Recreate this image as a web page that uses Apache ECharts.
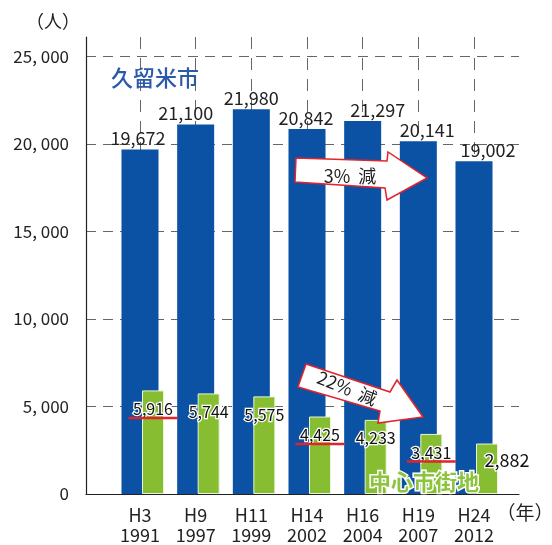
<!DOCTYPE html>
<html>
<head>
<meta charset="utf-8">
<script src="https://cdn.jsdelivr.net/npm/echarts@6/dist/echarts.min.js"></script>
<style>
html,body{margin:0;padding:0;background:#fff;}
#chart{width:552px;height:545px;}
</style>
</head>
<body>
<div id="chart"></div>
<script>
// ---- data ----
const eraLabels = ['H3', 'H9', 'H11', 'H14', 'H16', 'H19', 'H24'];
const yearLabels = ['1991', '1997', '1999', '2002', '2004', '2007', '2012'];
const kurumeCity = [19672, 21100, 21980, 20842, 21297, 20141, 19002];
const centralArea = [5916, 5744, 5575, 4425, 4233, 3431, 2882];
const yTickLabels = ['0', '5, 000', '10, 000', '15, 000', '20, 000', '25, 000'];
const underlinedCentral = [0, 3, 5];

// ---- styles ----
const FONT = "'Noto Sans CJK JP', 'Noto Sans', sans-serif";
const BLUE = '#0b51a4';
const GREEN = '#86bd31';
const RED = '#e3232c';
const blueLabelDx = [-2, -10, 0, -1, 15, 9, 14];

const categories = eraLabels.map((e, i) => e + '\n' + yearLabels[i]);
const fmt = v => v.toLocaleString('en-US');
const Y_MAX = 26100;
const TOP = 37, BOTTOM = 51;

const chart = echarts.init(document.getElementById('chart'), null, {renderer: 'canvas'});

const option = {
  animation: false,
  backgroundColor: '#fff',
  grid: [
    {left: 86, right: 33, top: TOP, bottom: BOTTOM},
    {left: 140, right: 78, top: TOP, bottom: BOTTOM},
    {left: 153, right: 65, top: TOP, bottom: BOTTOM}
  ],
  xAxis: [
    {
      gridIndex: 0, type: 'value', min: 0, max: 1,
      axisLine: {show: true, lineStyle: {color: '#222', width: 1.2}},
      axisTick: {show: false}, axisLabel: {show: false}, splitLine: {show: false}
    },
    {
      gridIndex: 1, type: 'category', data: categories, boundaryGap: false,
      axisLine: {show: false}, axisTick: {show: false},
      axisLabel: {interval: 0, margin: 11, fontSize: 18, lineHeight: 20, color: '#222', fontFamily: FONT},
      splitLine: {show: true, interval: 0, lineStyle: {color: '#666', width: 1, type: [12, 9]}}
    },
    {
      gridIndex: 2, type: 'category', data: categories, boundaryGap: false, show: false
    }
  ],
  yAxis: [
    {
      gridIndex: 0, type: 'value', min: 0, max: Y_MAX, interval: 5000,
      axisLine: {show: true, lineStyle: {color: '#222', width: 1.2}},
      axisTick: {show: false},
      axisLabel: {
        margin: 17, fontSize: 17, color: '#222', fontFamily: FONT, showMaxLabel: false,
        formatter: v => (v % 5000 === 0 && yTickLabels[v / 5000] !== undefined) ? yTickLabels[v / 5000] : ''
      },
      splitLine: {show: true, showMinLine: false, showMaxLine: false, lineStyle: {color: '#666', width: 1, type: [10, 7]}}
    },
    {gridIndex: 1, type: 'value', min: 0, max: Y_MAX, show: false, splitLine: {show: false}},
    {gridIndex: 2, type: 'value', min: 0, max: Y_MAX, show: false, splitLine: {show: false}}
  ],
  series: [
    {
      name: '久留米市', type: 'bar', xAxisIndex: 1, yAxisIndex: 1,
      barWidth: 37, clip: false,
      itemStyle: {color: BLUE},
      data: kurumeCity.map((v, i) => ({
        value: v,
        label: {offset: [blueLabelDx[i], 0]}
      })),
      label: {
        show: true, position: 'top', distance: 2,
        fontSize: 18, color: '#222', fontFamily: FONT,
        formatter: p => fmt(p.value)
      },
      z: 2
    },
    {
      name: '中心市街地', type: 'bar', xAxisIndex: 2, yAxisIndex: 2,
      barWidth: 22, clip: false,
      itemStyle: {color: GREEN, borderColor: '#eaf6d8', borderWidth: 1},
      data: centralArea.map((v, i) => (i === centralArea.length - 1 ? {
        value: v,
        label: {offset: [20, -3], rich: {v: {fontSize: 18, lineHeight: 18}}}
      } : {value: v})),
      label: {
        show: true, position: 'insideTop', distance: 11,
        fontFamily: FONT,
        formatter: p => underlinedCentral.includes(p.dataIndex)
          ? '{v|' + fmt(p.value) + '}\n{u| }'
          : '{v|' + fmt(p.value) + '}',
        rich: {
          v: {fontSize: 16, lineHeight: 15, color: '#111', fontFamily: FONT,
              textBorderColor: '#fff', textBorderWidth: 2.5, align: 'center'},
          u: {width: 49, height: 2.5, lineHeight: 3, backgroundColor: RED, align: 'center', fontSize: 1}
        }
      },
      z: 3
    }
  ],
  graphic: [
    {
      type: 'text', z: 10,
      style: {text: '（人）', x: 53, y: 21, font: '18px ' + FONT, fill: '#222', align: 'center', verticalAlign: 'middle'}
    },
    {
      type: 'text', z: 10,
      style: {text: '（年）', x: 525, y: 513, font: '19px ' + FONT, fill: '#222', align: 'center', verticalAlign: 'middle'}
    },
    {
      type: 'text', z: 10,
      style: {text: '久留米市', x: 155, y: 78, font: '500 22px ' + FONT, fill: '#2a5aaa',
              align: 'center', verticalAlign: 'middle', letterSpacing: 4}
    },
    {
      type: 'text', z: 10,
      style: {text: '中心市街地', x: 424, y: 482, font: 'bold 22px ' + FONT, fill: '#8cc43e',
              stroke: '#fff', lineWidth: 3, align: 'center', verticalAlign: 'middle', letterSpacing: 2}
    },
    {
      type: 'polygon', z: 10,
      shape: {points: [[296, 158], [387, 161], [388, 152], [427, 178], [387, 200], [385, 188], [295, 182]]},
      style: {fill: '#fff', stroke: RED, lineWidth: 1.5}
    },
    {
      type: 'text', z: 11,
      style: {text: '3%  減', x: 350, y: 176, font: '18px ' + FONT, fill: '#222', align: 'center', verticalAlign: 'middle'}
    },
    {
      type: 'polygon', z: 10,
      shape: {points: [[306, 364], [390, 392], [397, 380], [423, 417], [378, 423], [380, 411], [298, 387]]},
      style: {fill: '#fff', stroke: RED, lineWidth: 1.5}
    },
    {
      type: 'text', z: 11, x: 347, y: 388, rotation: -0.38,
      style: {text: '22%  減', x: 0, y: 0, font: '18px ' + FONT, fill: '#222', align: 'center', verticalAlign: 'middle'}
    }
  ]
};

chart.setOption(option);
</script>
</body>
</html>
